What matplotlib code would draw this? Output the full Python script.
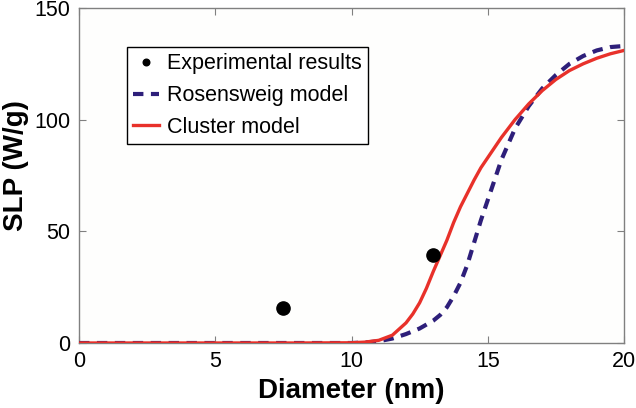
import matplotlib
matplotlib.use("Agg")
import matplotlib.pyplot as plt

plt.rcParams['font.family'] = ['Liberation Sans', 'DejaVu Sans']

# Experimental results
exp_d = [7.5, 13.0]
exp_slp = [15.5, 39.5]

# Rosensweig model
ros_d = [0, 2, 4, 6, 8, 10, 10.5, 11, 11.5, 12, 12.5, 13, 13.25, 13.5, 13.75, 14,
         14.25, 14.5, 14.75, 15, 15.25, 15.5, 15.75, 16, 16.5, 17, 17.5, 18,
         18.5, 19, 19.5, 20]
ros_slp = [0, 0, 0, 0, 0, 0, 0.2, 0.8, 2, 4, 6.5, 10, 12.5, 16, 21, 27,
           35, 45, 55, 64, 73, 82, 89, 96, 106, 114, 120, 125,
           128.5, 131, 132.5, 133]

# Cluster model
clu_d = [0, 2, 4, 6, 8, 10, 10.5, 11, 11.5, 12, 12.25, 12.5, 12.75, 13, 13.25,
         13.5, 13.75, 14, 14.25, 14.5, 14.75, 15, 15.5, 16, 16.5, 17, 17.5, 18,
         18.5, 19, 19.5, 20]
clu_slp = [0, 0, 0, 0, 0, 0.1, 0.4, 1.2, 3.5, 9, 13, 18, 24.5, 32, 39,
           46, 54, 61, 67, 73, 78.5, 83, 92, 100, 107, 113, 118, 122,
           125, 127.5, 129.5, 131]

xticks = [0, 5, 10, 15, 20]
yticks = [0, 50, 100, 150]

fig = plt.figure(figsize=(6.36, 4.08), dpi=100)
ax = fig.add_axes([79/636, 1-343/408, (624-79)/636, (343-8)/408])
ax.set_facecolor('#fefefd')

ax.plot(exp_d, exp_slp, 'o', color='black', markersize=9.5, label='Experimental results',
        zorder=5)
ax.plot(ros_d, ros_slp, color='#2e1f7a', lw=3.0, linestyle=(0, (2.5, 1.8)),
        label='Rosensweig model', zorder=3)
ax.plot(clu_d, clu_slp, color='#e8312a', lw=2.4, label='Cluster model', zorder=4)

ax.set_xlim(0, 20)
ax.set_ylim(0, 150)
ax.set_xticks(xticks)
ax.set_yticks(yticks)
for s in ax.spines.values():
    s.set_color('#808080')
    s.set_linewidth(1.0)
ax.tick_params(direction='in', length=5, color='#808080', labelsize=15.5,
               top=True, right=True, labeltop=False, labelright=False, pad=6)

ax.set_xlabel('Diameter (nm)', fontsize=20, fontweight='bold', labelpad=4)
ax.set_ylabel('SLP (W/g)', fontsize=20, fontweight='bold')
ax.yaxis.set_label_coords(-0.092, 0.53)

leg = ax.legend(loc='upper left', bbox_to_anchor=(127/636, 1-47/408),
                bbox_transform=fig.transFigure, fontsize=15.5, frameon=True,
                fancybox=False, edgecolor='black', facecolor='white', framealpha=1,
                markerscale=0.5, handlelength=1.2, handletextpad=0.35,
                borderpad=0.3, labelspacing=0.5, borderaxespad=0)
leg.get_frame().set_linewidth(1.0)

fig.savefig('out.png', dpi=100)
